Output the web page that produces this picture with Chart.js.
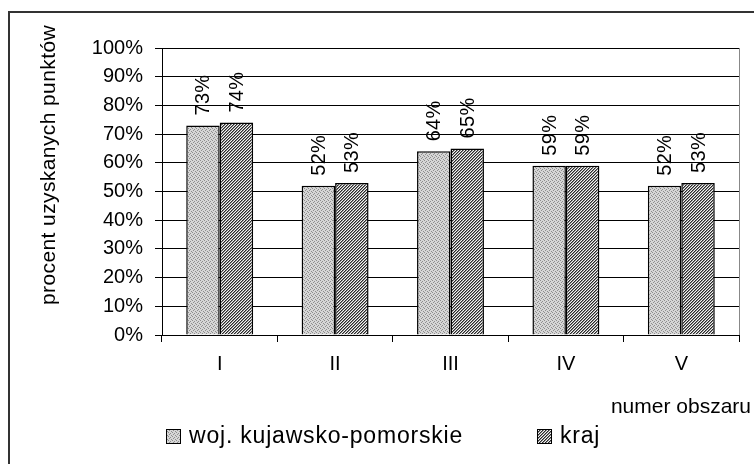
<!DOCTYPE html>
<html>
<head>
<meta charset="utf-8">
<script src="https://cdn.jsdelivr.net/npm/chart.js@4/dist/chart.umd.min.js"></script>
<style>
  html, body { margin: 0; padding: 0; background: #fff; }
  canvas { display: block; }
</style>
</head>
<body>
<canvas id="chart" width="754" height="464"></canvas>
<script>
// DATA
const categories = ["I", "II", "III", "IV", "V"];
const seriesNames = ["woj. kujawsko-pomorskie", "kraj"];
const wojValues = [73, 52, 64, 59, 52];
const krajValues = [74, 53, 65, 59, 53];
const yTitle = "procent uzyskanych punktów";
const xTitle = "numer obszaru";

const FONT = "'Liberation Sans', Arial, sans-serif";
Chart.defaults.font.family = FONT;
Chart.defaults.color = "#000";

// fill patterns like the old office charts
function dotPattern() {
  const c = document.createElement("canvas");
  c.width = 4; c.height = 4;
  const g = c.getContext("2d");
  g.fillStyle = "#d6d6d6";
  g.fillRect(0, 0, 4, 4);
  g.fillStyle = "#8e8e8e";
  [[0, 0], [2, 1], [1, 2], [3, 3]].forEach(p => g.fillRect(p[0], p[1], 1, 1));
  return g.createPattern(c, "repeat");
}

function hatchPattern() {
  const c = document.createElement("canvas");
  c.width = 3; c.height = 3;
  const g = c.getContext("2d");
  g.fillStyle = "#f4f4f4";
  g.fillRect(0, 0, 3, 3);
  g.fillStyle = "#2a2a2a";
  for (let x = 0; x < 3; x++) {
    for (let y = 0; y < 3; y++) {
      if ((x + y) % 3 === 0) g.fillRect(x, y, 1, 1);
    }
  }
  g.fillStyle = "#8a8a8a";
  for (let x = 0; x < 3; x++) {
    for (let y = 0; y < 3; y++) {
      if ((x + y) % 3 === 1) g.fillRect(x, y, 1, 1);
    }
  }
  return g.createPattern(c, "repeat");
}

const ctx = document.getElementById("chart").getContext("2d");
const fills = [dotPattern(), hatchPattern()];

// extra drawing: frame, titles, legend, value labels
const extras = {
  id: "extras",
  afterDraw(chart) {
    const c = chart.ctx;
    const area = chart.chartArea;

    // right edge of plot area
    c.save();
    c.strokeStyle = "#888";
    c.lineWidth = 1;
    c.beginPath();
    c.moveTo(area.right + 0.5, area.top);
    c.lineTo(area.right + 0.5, area.bottom);
    c.stroke();

    // outer frame (only left and top visible)
    c.strokeStyle = "#333";
    c.lineWidth = 2;
    c.beginPath();
    c.moveTo(9, 464);
    c.lineTo(9, 12);
    c.lineTo(754, 12);
    c.stroke();
    c.restore();

    // value labels
    chart.data.datasets.forEach((ds, i) => {
      const meta = chart.getDatasetMeta(i);
      meta.data.forEach((bar, j) => {
        c.save();
        c.letterSpacing = "0.3px";
        c.font = "20px " + FONT;
        c.fillStyle = "#000";
        c.translate(bar.x, bar.y - 10);
        c.rotate(-Math.PI / 2);
        c.textAlign = "left";
        c.textBaseline = "middle";
        c.fillText(ds.data[j] + "%", 0, 1);
        c.restore();
      });
    });

    // y axis title
    c.save();
    c.letterSpacing = "0.4px";
    c.font = "21px " + FONT;
    c.fillStyle = "#000";
    c.translate(49, 165);
    c.rotate(-Math.PI / 2);
    c.textAlign = "center";
    c.textBaseline = "middle";
    c.fillText(yTitle, 0, 0);
    c.restore();

    // x axis title
    c.save();
    c.font = "21px " + FONT;
    c.fillStyle = "#000";
    c.textAlign = "right";
    c.textBaseline = "alphabetic";
    c.fillText(xTitle, 751, 413);
    c.restore();

    // legend
    const legendX = [166, 537];
    chart.data.datasets.forEach((ds, i) => {
      c.save();
      c.fillStyle = ds.backgroundColor;
      c.fillRect(legendX[i], 429, 14, 14);
      c.strokeStyle = "#000";
      c.lineWidth = 1;
      c.strokeRect(legendX[i] + 0.5, 429.5, 14, 14);
      c.letterSpacing = "0.8px";
      c.font = "23px " + FONT;
      c.fillStyle = "#000";
      c.textBaseline = "alphabetic";
      c.textAlign = "left";
      c.fillText(ds.label, legendX[i] + 23, 443);
      c.restore();
    });
  }
};

new Chart(ctx, {
  type: "bar",
  data: {
    labels: categories,
    datasets: [
      {
        label: seriesNames[0],
        data: wojValues,
        backgroundColor: fills[0],
        borderColor: "#000",
        borderWidth: 1.5,
        borderSkipped: "bottom"
      },
      {
        label: seriesNames[1],
        data: krajValues,
        backgroundColor: fills[1],
        borderColor: "#000",
        borderWidth: 1.5,
        borderSkipped: "bottom"
      }
    ]
  },
  options: {
    responsive: false,
    animation: false,
    devicePixelRatio: 1,
    layout: { padding: { top: 48, right: 15, left: 0, bottom: 0 } },
    plugins: {
      legend: { display: false },
      tooltip: { enabled: false }
    },
    datasets: {
      bar: { categoryPercentage: 0.58, barPercentage: 1.0 }
    },
    scales: {
      x: {
        afterFit(scale) { scale.height = 129; },
        grid: {
          offset: true,
          drawOnChartArea: false,
          tickLength: 7,
          color: "#000"
        },
        border: { color: "#000", width: 1 },
        ticks: { font: { size: 20 }, color: "#000", padding: 10 }
      },
      y: {
        min: 0,
        max: 100,
        afterFit(scale) { scale.width = 162; },
        grid: { color: "#000", tickLength: 7, lineWidth: 1 },
        border: { color: "#000", width: 1 },
        ticks: {
          stepSize: 10,
          font: { size: 20 },
          color: "#000",
          padding: 12,
          callback: v => v + "%"
        }
      }
    }
  },
  plugins: [extras]
});
</script>
</body>
</html>
